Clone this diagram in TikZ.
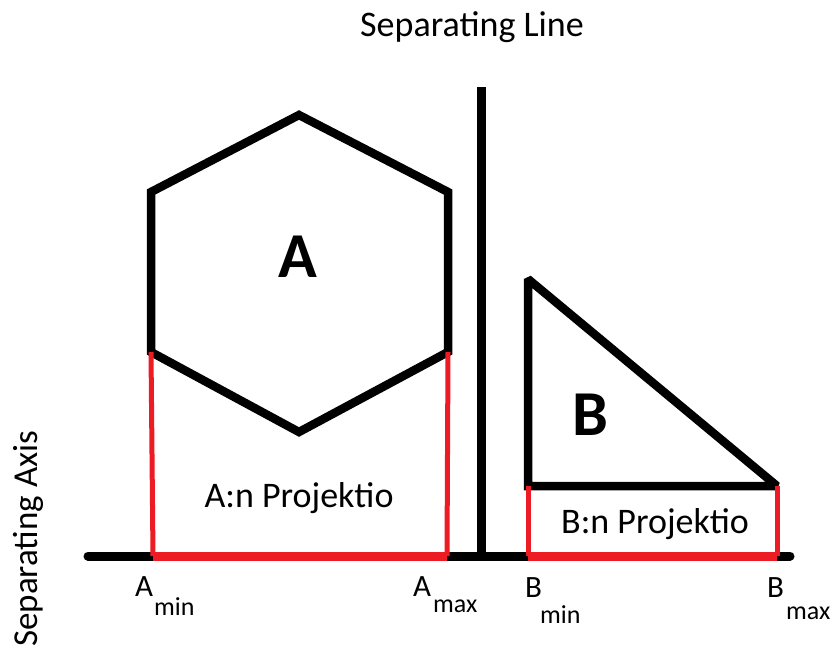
\documentclass[tikz,border=0pt]{standalone}
\usepackage{fontspec}
\setmainfont{Carlito}
\definecolor{paintred}{RGB}{237,28,36}
\begin{document}
\begin{tikzpicture}[x=1pt,y=-1pt,
  shapeline/.style={line width=8.5pt,line join=miter,miter limit=2},
  axisline/.style={line width=9pt,line cap=round},
  projbar/.style={paintred,line width=9pt},
  projside/.style={paintred,line width=5pt},
  txt/.style={font=\fontsize{36}{40}\selectfont,inner sep=0pt,anchor=base},
  caplbl/.style={font=\fontsize{31}{36}\selectfont,inner sep=0pt,anchor=base west},
  sublbl/.style={font=\fontsize{26}{30}\selectfont,inner sep=0pt,anchor=base west},
  biglbl/.style={font=\bfseries\fontsize{64}{70}\selectfont,inner sep=0pt,anchor=base}]
\useasboundingbox (0,0) rectangle (831,657);
% coordinates
\coordinate (h1) at (299,115);
\coordinate (h2) at (448,192);
\coordinate (h3) at (448,352);
\coordinate (h4) at (299,432);
\coordinate (h5) at (151,352);
\coordinate (h6) at (151,192);
\coordinate (t1) at (528,279);
\coordinate (t2) at (528,486);
\coordinate (t3) at (777,486);
\coordinate (ax1) at (88,556);
\coordinate (ax2) at (790,556);
\coordinate (sl1) at (481,87);
\coordinate (sl2) at (481,556);
\coordinate (amin) at (153,556);
\coordinate (amax) at (447,556);
\coordinate (bmin) at (528,556);
\coordinate (bmax) at (777,556);
% axis
\draw[axisline] (ax1) -- (ax2);
% separating line
\draw[line width=9pt] (sl1) -- (sl2);
% shapes
\draw[shapeline] (h1) -- (h2) -- (h3) -- (h4) -- (h5) -- (h6) -- cycle;
\draw[shapeline] (t1) -- (t2) -- (t3) -- cycle;
% projections
\draw[projbar] (amin) -- (amax);
\draw[projbar] (bmin) -- (bmax);
\draw[projside] (h5) -- (amin);
\draw[projside] (h3) -- (amax);
\draw[projside] (t2) -- (bmin);
\draw[projside] (t3) -- (bmax);
% texts
\node[txt] (title) at (472,36) {Separating Line};
\node[biglbl] (la) at (298,277) {A};
\node[biglbl] (lb) at (590,435) {B};
\node[txt] (pa) at (299,507) {A:n Projektio};
\node[txt] (pb) at (655,533) {B:n Projektio};
\node[caplbl] (a1) at (135,596) {A};
\node[sublbl] (a1s) at (154,615) {min};
\node[caplbl] (a2) at (413,596) {A};
\node[sublbl] (a2s) at (433,612) {max};
\node[caplbl] (b1) at (525,597) {B};
\node[sublbl] (b1s) at (540,623) {min};
\node[caplbl] (b2) at (767,597) {B};
\node[sublbl] (b2s) at (786,619) {max};
\node[font=\fontsize{35}{40}\selectfont,inner sep=0pt,rotate=90,anchor=base west] (axis) at (37,647) {Separating Axis};
\end{tikzpicture}
\end{document}
